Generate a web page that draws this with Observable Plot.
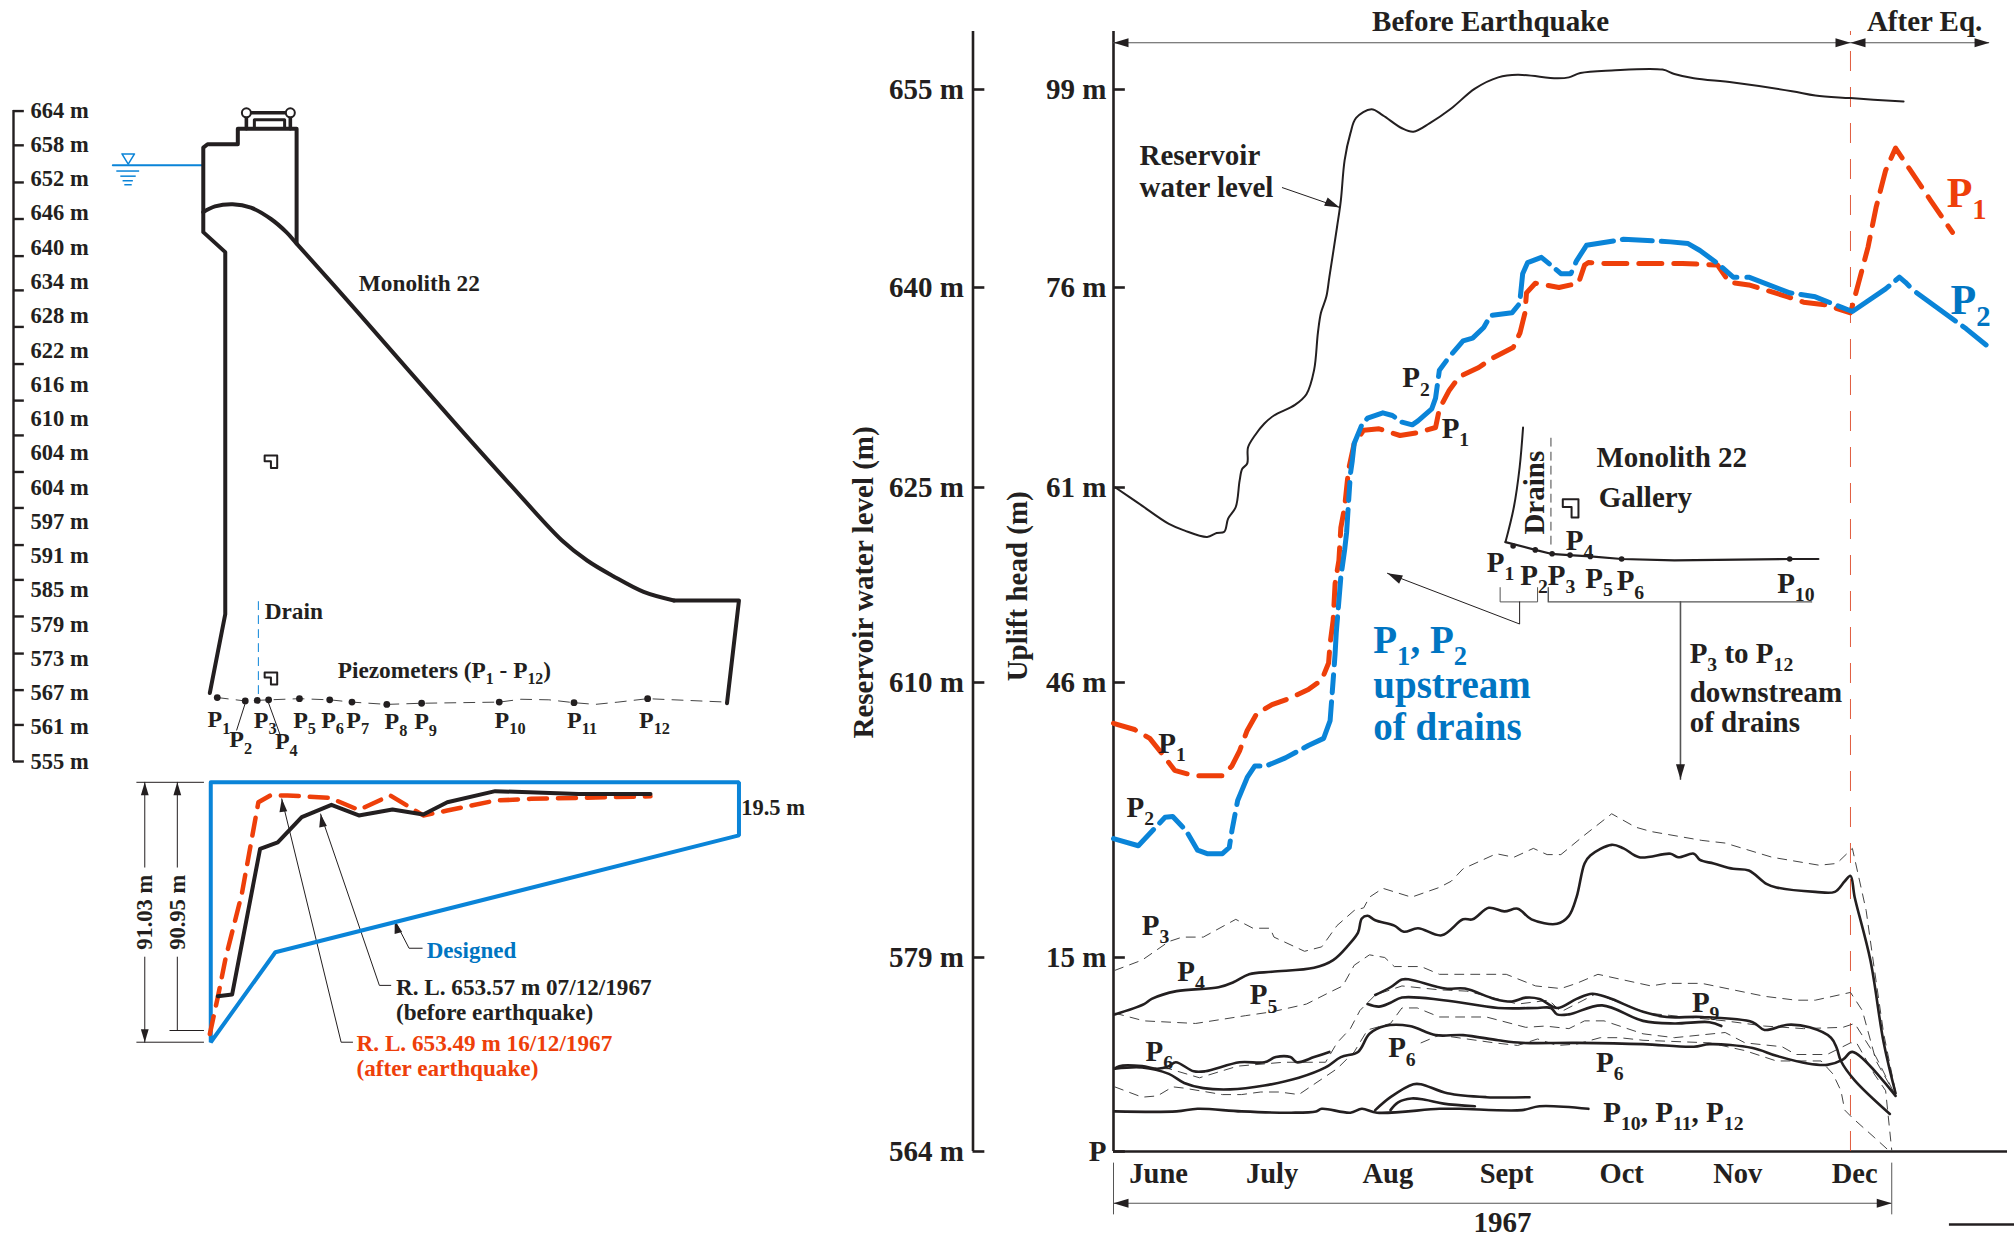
<!DOCTYPE html>
<html><head><meta charset="utf-8">
<script src="https://cdn.jsdelivr.net/npm/d3@7"></script>
<script src="https://cdn.jsdelivr.net/npm/@observablehq/plot@0.6"></script>
<style>html,body{margin:0;padding:0;background:#fff;width:2014px;height:1235px;overflow:hidden}svg{position:absolute;max-width:none!important;overflow:visible}</style>
</head><body>
<div id="root" style="position:relative;width:2014px;height:1235px"></div>
<script>
const INK="#231f20", RED="#ee3f0a", BLUE="#0a84d8", BLUETXT="#0075c2", GREY="#555";

// ---- Right chart: days since 1 June 1967, uplift head in m ----
const months=["June","July","Aug","Sept","Oct","Nov","Dec"];
const monthDays=[11.8,41.5,71.8,102.9,133,163.4,194];
const upliftTicks=[0,15,46,61,76,99];
const reservoirLevels=[564,579,610,625,640,655];
const earthquakeDay=192.9;

const reservoir=[[0.5,61],[6.5,59.8],[14.5,58.2],[18.5,57.7],[24.5,57.2],[27,57.5],[29,57.6],[30,58.6],[32,59.5],[33,61.5],[33.7,62.4],[35,62.8],[35.2,64],[37,64.9],[39.5,65.8],[42,66.4],[47.5,67.2],[50.5,68],[52.5,69.8],[53.5,72.6],[54.3,74.1],[55.7,75.3],[56.5,77.2],[58.5,83],[59.5,86.1],[60.5,90.8],[62,93.9],[63.5,95.7],[67.5,96.7],[70.5,96],[75.5,94.5],[78.5,94.1],[82.8,95.1],[88.4,96.8],[94.6,99.1],[100.7,100.4],[105.8,100.7],[116,100.3],[119.2,100.4],[122.2,100.9],[130.4,101.2],[143.7,101.3],[146.8,100.8],[151.9,100.3],[162.2,99.8],[177.6,98.8],[183.7,98.3],[192.9,98],[206.8,97.6]];
const p1=[[0,41.4],[5.5,40.7],[9.5,39.7],[13,37.8],[16,36.1],[21,35.5],[28.5,35.5],[31,36.6],[33,38.3],[35,40.6],[37.5,42.5],[41.5,43.5],[46,44.2],[51,45.2],[54.5,46.2],[56.3,47.5],[56.7,49],[57.5,50.8],[58,53.6],[59,55.4],[59.5,57.9],[60.5,59.5],[61.5,62.3],[63,64.3],[65.5,65.3],[69.5,65.4],[75,64.9],[79.5,65.1],[84.3,65.5],[85.3,66.9],[87.9,68.3],[90.5,69.3],[95.6,70],[99.2,70.7],[104.6,71.5],[106.4,72.6],[107.7,74.1],[108.1,75.6],[110.4,76.5],[116.6,76],[121.7,76.5],[123.3,78.6],[124.3,78.9],[128.4,78.8],[138.6,78.8],[148.9,78.8],[158.1,78.6],[161.2,76.6],[166.3,76.3],[176.5,75.3],[180.6,74.9],[186.3,74.7],[192.9,74.1],[195,76.5],[197.5,80.7],[199.6,85.3],[202.1,89.6],[204.7,92.2],[208.3,89.8],[213.9,86.1],[219.6,82.4]];
const p2=[[0,28.4],[6.5,27.6],[13.5,30.8],[15.5,30.9],[19,29.3],[22,27.1],[24.5,26.7],[28.5,26.7],[30.3,27.4],[31,29.3],[32.5,32.7],[35,35.3],[37,36.6],[40,36.6],[45,37.5],[51,38.9],[55,39.7],[56.7,41.7],[57.5,46.2],[58,48.2],[58.3,49.8],[59.5,54.1],[60.5,56.2],[61,57.5],[62,62],[62.5,63],[63,64.3],[65,65.7],[66.5,66.2],[70.5,66.6],[73,66.4],[75.5,65.9],[78.2,65.7],[79.7,66],[83.3,66.9],[84.3,67.7],[85.3,69.8],[87.9,70.8],[91.5,72],[94,72.2],[96.9,73],[98.7,73.9],[104.3,74.1],[106.3,74.8],[107.1,77.6],[108.4,78.9],[112,79.5],[114.5,78.6],[117.1,77.6],[119.7,77.6],[121.2,79.1],[123.8,80.9],[133.5,81.6],[145.8,81.3],[150.4,81.1],[153.5,80.3],[158.1,78.8],[162.2,77.2],[166.3,77.2],[177,75.6],[183.7,75.3],[186.3,75],[193.4,74.2],[202.1,75.9],[205.7,77.2],[207.3,76.6],[209.3,75.8],[223.2,72.9],[228.8,71.6]];
const p4=[[0.3,10.6],[8,11.4],[10,11.8],[16.5,12.4],[27.5,12.7],[31.5,13.1],[35.5,13.7],[41.5,13.9],[52.5,14.2],[57.5,14.8],[61.5,16.4],[64,17.8],[65,19.4],[66.5,19.7],[68.5,19.2],[73.5,18.6],[76,17.9],[79.7,18.3],[85.9,17.5],[91.5,19.3],[94,19.3],[98.2,20.6],[102.3,20.2],[105.8,20.5],[109.4,19.3],[116.1,18.8],[119.2,19.7],[121.2,21.8],[123.3,25.6],[124.8,26.5],[130.4,27.7],[133.5,27.3],[137.6,26.3],[145.8,26.7],[147.8,26.3],[151.9,26.7],[153.5,26],[157.1,25.6],[162.2,25],[166.3,24.8],[170.9,23.3],[173.5,22.9],[183.7,22.4],[188.8,22.4],[191.4,23.6],[192.9,24.2],[194,21.8],[198.1,14.8],[201.6,8.4],[204.7,4.5]];
const p3=[[0.3,14],[7.5,14.8],[14.5,16.8],[18,17.3],[23.5,17.3],[32,19.3],[36.5,18.3],[41,18.3],[42,17.3],[50,15.7],[54.5,16.2],[58.5,18.6],[63,20.3],[65.5,20.6],[67,21.8],[70.5,22.8],[78,21.8],[85.3,22.9],[88.4,23.6],[91.5,25],[100.2,26.7],[104.8,26.3],[109.9,27.3],[113.5,26.6],[117.1,26.6],[123.3,28.8],[130.4,31.2],[136.6,29.7],[140.7,29.2],[154,28.2],[160.1,27.9],[172.4,26.3],[184.7,25.4],[189.3,25.6],[193.4,27.3],[197,20.3],[199.1,14.2],[201.6,9.1],[204.7,4.6]];
const p5=[[0.3,10.7],[8,10.1],[21.5,9.9],[34.5,10.5],[41.5,10.8],[50.5,11.4],[56.5,12.3],[60,12.8],[63,14.4],[67,15.3],[71,15],[73.5,14.3],[80.5,14.3],[85.3,13.7],[102.8,13.7],[110.5,12.8],[117.1,12.6],[121.2,13],[126.8,13.7],[140.7,12.8],[144.8,13],[154,13],[170.4,12],[178.6,11.7],[183.7,11.7],[192.9,12.3],[196,10.9],[199.6,7],[204.4,4.5]];
const p9Upper=[[68.5,12.1],[72.5,12.7],[75.5,13.3],[77.5,13.3],[86.9,12.6],[92,12.6],[99.7,11.8],[104.3,11.6],[107.9,11.9],[111.5,11.8],[116.1,11.1],[121.2,11.8],[125.3,12.2],[129.4,11.9],[138.6,10.8],[144.8,10.4],[154,10.4],[167.3,10],[170.4,9.4],[176.5,9.8],[182.2,9.6],[187.8,8.8],[189.3,8],[190.4,7],[194,5.5],[203.2,2.9]];
const p9Lower=[[66.5,11.4],[69.5,11.2],[72.5,11.5],[75.5,11.9],[86.4,11.7],[100.7,11.1],[111,11.1],[114.5,11.1],[116.1,10.6],[119.2,10.6],[127.9,11.3],[138.6,10.1],[146.8,9.9],[156,10],[159.1,9.7]];
const p6Main=[[0.3,6.4],[7.5,6.5],[14.5,6],[18.5,5.3],[23.5,4.9],[30.5,4.8],[39.5,5.1],[48.5,5.7],[55.5,6.5],[59.5,7.3],[64,7.7],[67,9.1],[71,9.7],[77.5,9.7],[84.3,9],[91.5,9],[100.7,8.6],[106.9,8.4],[121.2,8.4],[138.6,8.3],[151.9,8.1],[156,8.3],[167.3,8],[173.5,7.4],[181.7,6.8],[186.8,6.7],[190.9,7.1],[193.4,7.7],[204.7,4.3]];
const p6Short=[[0.3,6.4],[1.5,6.6],[7.5,6.6],[11.5,6.4],[14.5,6.6],[16.3,6.9],[21,6.2],[24,6.2],[33,6.9],[39.5,6.9],[42.5,7.3],[46.3,7.3],[48,6.9],[52.5,7.3],[56.5,7.7]];
const p10=[[0.3,3.1],[16.5,3.1],[22,3.3],[33.5,3.1],[46.5,3],[53,3.1],[54.5,3.3],[62,3],[65,3.3],[69,3],[85.3,3.3],[90.5,3.3],[106.9,3.2],[111.5,3.5],[124.3,3.3]];
const p11=[[68.5,3.2],[72.5,4.2],[78.5,5.2],[80.5,5.2],[87.4,4.5],[97.6,4.2],[108.9,4.2]];
const p12=[[72.5,3.2],[74.5,3.8],[78,4.1],[81.5,4],[86.4,3.7],[94.6,3.5]];
const thinA=[[0.3,5],[7.5,4.2],[11.5,4.3],[15.5,5],[18.5,4.9],[28.5,4.4],[33.5,4.4],[38.5,4.6],[43.5,4.6],[48.5,4.4],[53,5.3],[58.5,6.4],[63,7.7],[66.5,9.4],[72.5,9.9],[75.5,11.1],[79.5,11.1],[85.3,10.4],[97.6,10.4],[107.9,9.6],[113,9.7],[119.2,9.5],[123.3,10.1],[128.4,10.1],[138.6,9.1],[146.8,8.8],[160.1,9.2],[165.3,8.4],[175,8.1],[178.6,7.5],[186.8,7.5],[192.9,8.4],[194.5,8.4],[199.1,6],[202.1,4.7],[203.7,0.1]];
const thinB=[[0.3,6.5],[5.5,6.5],[14.5,6.4],[22.5,5.7],[32.5,6.6],[44.5,6.9],[55.5,6.9],[58.5,8.4],[62,9.5],[64.5,10.9],[68.5,12.1],[75.5,12.8],[85.3,12.5],[92.5,12.4],[105.8,11.4],[114,11.7],[117.1,10.8],[126.3,12.2],[139.7,10.7],[160.1,10.1],[170.4,9.7],[180.6,9.5],[190.9,9.6],[194,9.9],[199.6,7.3],[204.7,4.3]];
const thinC=[[80.5,8.4],[85.3,9],[99.7,8.4],[105.8,8.2],[111,8.7],[116.1,8.2],[121.2,8.3],[127.4,8.8],[132.5,8.8],[138.6,8.6],[156,8.4],[165.3,7.8],[170.4,7.3],[173.5,7],[185.2,7],[188.3,6],[190.4,4.7],[191.4,3.2],[193.4,2.6],[199.1,1.1],[203.2,0]];

// inset sketch inside the right chart
const insetFace=[[107.2,65.5],[106.3,62.5],[104.8,59.5],[102.6,56.8]];
const insetBase=[[102.6,56.8],[110.4,56.2],[114.5,55.9],[119.2,55.8],[124.8,55.7],[133,55.5],[146.8,55.4],[177,55.5],[184.5,55.5]];
const insetDots=[[104.6,56.5],[110.4,56.2],[114.8,55.9],[119.5,55.8],[124.8,55.7],[133,55.5],[177,55.5]];
const insetDrain=[[114.5,64.7],[114.5,56.2]];
const insetGallery=[[117.6,60.1],[121.7,60.1],[121.7,58.7],[119.9,58.7],[119.9,59.5],[117.6,59.5],[117.6,60.1]];
const bracketUp=[[101.2,53.3],[101.2,52.2],[111,52.2],[111,53.3]];
const bracketDown=[[113.8,53.3],[113.8,52.2],[182.7,52.2]];
const leaderUp=[[106.3,52.2],[106.3,50.5],[71.7,54.4]];
const leaderDown=[[148.4,52.2],[148.4,35.1]];
const leaderReservoir=[[44.2,87.6],[59.2,85.3]];

const rightHeads=[
 {x:0,y:104.4,a:270},{x:earthquakeDay,y:104.4,a:90},{x:earthquakeDay,y:104.4,a:270},{x:229.3,y:104.4,a:90},
 {x:0,y:-4,a:270},{x:203.7,y:-4,a:90},{x:59.2,y:85.3,a:113},{x:71.7,y:54.4,a:295},{x:148.4,y:35.1,a:180}];

const rightLabelsMid=[
 {x:98.7,y:106.8,t:"Before Earthquake"},{x:212.3,y:106.8,t:"After Eq."},{x:101.8,y:-5.5,t:"1967"},
 {x:79.2,y:69.2,t:"P_2"},{x:89.5,y:65.4,t:"P_1"},{x:15.3,y:39.1,t:"P_1"},{x:7,y:31.9,t:"P_2"},
 {x:101.3,y:55.2,t:"P_1"},{x:110.1,y:54.2,t:"P_2"},{x:117.3,y:54.2,t:"P_3"},{x:122,y:56.9,t:"P_4"},{x:127.1,y:54,t:"P_5"},{x:135.3,y:53.8,t:"P_6"},{x:178.6,y:53.6,t:"P_10"},
 {x:11,y:18.6,t:"P_3"},{x:20.3,y:13.9,t:"P_4"},{x:39.3,y:12.1,t:"P_5"},{x:12,y:7.7,t:"P_6"},{x:75.5,y:8,t:"P_6"},{x:129.9,y:6.9,t:"P_6"},{x:155,y:11.5,t:"P_9"}];
const rightLabelsStart=[
 {x:6.8,y:91.3,t:"Reservoir"},{x:6.8,y:87.6,t:"water level"},
 {x:126.4,y:63.25,t:"Monolith 22"},{x:127,y:60.2,t:"Gallery"},
 {x:150.8,y:48.2,t:"P_3 to P_12"},{x:150.8,y:44.9,t:"downstream"},{x:150.8,y:41.5,t:"of drains"},
 {x:128.2,y:3,t:"P_10, P_11, P_12"}];
const rightBlueLabels=[{x:68,y:49.2,t:"P_1, P_2"},{x:68,y:45.7,t:"upstream"},{x:68,y:40.9,t:"of drains"}];

// ---- Dam section: chainage and elevation in m ----
const elevationTicks=[664,658,652,646,640,634,628,622,616,610,604,598,592,586,580,574,568,562,556,550];
const elevationLabels=["664 m","658 m","652 m","646 m","640 m","634 m","628 m","622 m","616 m","610 m","604 m","604 m","597 m","591 m","585 m","579 m","573 m","567 m","561 m","555 m"];
const elevationMarks=[663.9,657.9,651.4,645,638.5,632.5,626.1,619.6,613.2,607.1,600.7,594.4,587.9,581.8,575.4,568.9,562.5,556.4,550];
const damUpstream=[[1.6,562],[4.3,575.8],[4.3,639.2],[0.45,642.7],[0.45,657.5],[1.2,658.1],[6.5,658.1],[6.5,660.8],[16.8,660.8],[16.8,640.7]];
const damCrest=[[0.45,646.2],[2.5,647.2],[5.6,647.6],[8.8,647],[12.3,645],[15,642.7],[16.8,640.7],[27.5,628.7],[36.5,618.4],[45.4,608.3],[54.3,598.4],[63.3,588.7],[67.7,585.2],[72.2,582.5],[77.6,579.7],[82.9,578.2]];
const damToe=[[82.9,578.2],[94.3,578.2],[92.2,560.2]];
const parapetOuter=[[8,660.8],[8,663.6],[15.7,663.6],[15.7,660.8]];
const parapetInner=[[9.4,661],[9.4,662.4],[14.7,662.4],[14.7,661]];
const parapetRollers=[[8,663.6],[15.7,663.6]];
const waterLine=[[-15.4,654.4],[0.3,654.4]];
const waterTriangle=[[-13.8,656.4],[-11.6,656.4],[-12.7,654.6],[-13.8,656.4]];
const waterRipples=[[-14.7,-10.7,653.4],[-14,-11.3,652.5],[-13.6,-11.8,651.7],[-13.3,-12,651]];
const galleryUpper=[[11.2,603.6],[13.4,603.6],[13.4,601.4],[12.3,601.4],[12.3,602.6],[11.2,602.6],[11.2,603.6]];
const galleryLower=[[11.2,565.6],[13.4,565.6],[13.4,563.5],[12.3,563.5],[12.3,564.7],[11.2,564.7],[11.2,565.6]];
const drainLine=[[10.1,578],[10.1,560.6]];
const baseLine=[[2.9,561.2],[7.8,560.6],[9.9,560.7],[11.9,560.8],[17.3,561],[22.6,560.8],[26.5,560.4],[32.6,560],[38.7,560.2],[52.3,560.4],[56.1,560.9],[61,560.8],[65.4,560.3],[69.1,560],[73.1,560.4],[78.3,561],[92.2,560.4]];
const piezometers=[[2.9,561.2],[7.8,560.6],[9.9,560.7],[11.9,560.8],[17.3,561],[22.6,560.8],[26.5,560.4],[32.6,560],[38.7,560.2],[52.3,560.4],[65.4,560.3],[78.3,561]];
const damLeaders=[[[7.8,560.2],[6.3,555.5]],[[11.9,560.2],[13.9,554.7]]];
const damLabelsMid=[{x:3.2,y:557.4,t:"P_1"},{x:7,y:553.8,t:"P_2"},{x:11.3,y:557.3,t:"P_3"},{x:15,y:553.5,t:"P_4"},{x:18.2,y:557.3,t:"P_5"},{x:23.1,y:557.3,t:"P_6"},{x:27.5,y:557.3,t:"P_7"},{x:34.2,y:557,t:"P_8"},{x:39.4,y:557,t:"P_9"},{x:54.2,y:557.3,t:"P_10"},{x:66.8,y:557.3,t:"P_11"},{x:79.5,y:557.3,t:"P_12"}];
const damLabelsStart=[{x:27.7,y:633.7,t:"Monolith 22"},{x:11.2,y:576.2,t:"Drain"},{x:24,y:566,t:"Piezometers (P_1 - P_12)"}];

// ---- Uplift diagram: same chainage, head in m ----
const designed=[[1.76,91.1],[94.3,91.1],[94.3,72.5],[13.07,31.6],[1.76,0.1],[1.76,91.1]];
const beforeEq=[[3,16.2],[5.5,16.8],[10.4,67.8],[13.5,70.1],[17.7,78.9],[22.9,83.2],[27.7,79.5],[33.6,81.6],[39,79.8],[43.2,84.1],[51.6,88],[66.2,87],[78.8,87]];
const afterEq=[[1.6,3],[3,15.9],[4.4,29.9],[7.2,52],[10.1,84.1],[12.2,86.5],[15.2,86.5],[22.7,85.6],[27.7,81.4],[33.2,86.5],[39,79.5],[43.2,81.2],[51.6,84.7],[57.9,85.3],[78.8,86.2]];
const dimLines=[
 [[-9.8,91.1],[-9.8,61.4]],[[-9.8,29.9],[-9.8,0.1]],
 [[-4.1,91.1],[-4.1,61.4]],[[-4.1,29.9],[-4.1,4.2]],
 [[-11.2,91.1],[0.5,91.1]],[[-11.2,0.1],[0.5,0.1]],[[-5.4,4.2],[0.5,4.2]],
 [[34,42.7],[36.5,33],[38.8,33]],[[21,80],[31.3,20],[33.3,20]],[[14.2,85.3],[24.6,0.1],[26.6,0.1]]];
const upliftHeads=[{x:-9.8,y:91.1,a:0},{x:-4.1,y:91.1,a:0},{x:-9.8,y:0.1,a:180},{x:34,y:42.7,a:344},{x:21,y:80,a:349},{x:14.2,y:85.3,a:353}];

// ---- helpers ----
const SERIF="'Liberation Serif','Times New Roman',serif";
const pairLine=(data,o)=>Plot.line(data,{x:d=>d[0],y:d=>d[1],...o});
const textSet=(rows,o)=>Plot.text(rows,{x:"x",y:"y",text:"t",lineAnchor:"middle",...o});
const headSymbol={draw(c,s){const l=Math.sqrt(s/Math.PI),w=l*.3;c.moveTo(0,0);c.lineTo(-w,l);c.lineTo(w,l);c.closePath();}};
const headMark=(rows,r,fill=INK)=>Plot.dot(rows,{x:"x",y:"y",rotate:d=>d.a,symbol:headSymbol,r,fill});
const base=(pos)=>({style:{fontFamily:SERIF,fontWeight:"bold",color:INK,background:"transparent",...pos,maxWidth:"none"}});
function subscripts(svg){
  svg.querySelectorAll("text").forEach(t=>{
    const walk=t.querySelector("tspan")?[...t.querySelectorAll("tspan")]:[t];
    walk.forEach(el=>{
      const s=el.textContent; if(!/_\d/.test(s))return;
      const parts=s.split(/_(\d+)/); el.textContent="";
      let back=false;
      parts.forEach((p,i)=>{ if(!p)return;
        const ts=document.createElementNS("http://www.w3.org/2000/svg","tspan");
        if(i%2){ts.setAttribute("font-size","68%");ts.setAttribute("dy","0.42em");back=true;}
        else if(back){ts.setAttribute("dy","-0.286em");back=false;}
        ts.textContent=p; el.appendChild(ts);
      });
    });
  });
  return svg;
}
const root=document.getElementById("root");

// ---- Right chart ----
const thin={stroke:"#444",strokeWidth:1,strokeDasharray:"9,7"};
const heavy={stroke:INK,strokeWidth:2.6,curve:"catmull-rom"};
root.appendChild(subscripts(Plot.plot({
  ...base({left:"820px",top:"0px"}),
  width:1194,height:1235,marginLeft:293,marginRight:7,marginBottom:84,marginTop:31,
  x:{domain:[0,234]},
  y:{type:"linear",domain:[0,15,46,61,76,99,105.7],range:[1151,957,682,487,287,89,31]},
  marks:[
   Plot.axisY(upliftTicks,{anchor:"left",tickSize:0,tickPadding:7,fontSize:29,fontWeight:"bold",fontFamily:SERIF,label:null,tickFormat:d=>d===0?"P":d+" m"}),
   Plot.axisY(upliftTicks,{anchor:"left",dx:-140.5,tickSize:0,tickPadding:9,fontSize:29,fontWeight:"bold",fontFamily:SERIF,label:null,tickFormat:d=>reservoirLevels[upliftTicks.indexOf(d)]+" m"}),
   Plot.axisX(monthDays,{anchor:"bottom",tickSize:0,tickPadding:11,fontSize:28.5,fontWeight:"bold",fontFamily:SERIF,label:null,tickFormat:d=>months[monthDays.indexOf(d)]}),
   Plot.ruleX([0],{y1:0,y2:105.7,stroke:INK,strokeWidth:2.6}),
   Plot.ruleX([0],{y1:0,y2:105.7,dx:-140.5,stroke:INK,strokeWidth:2.6}),
   Plot.ruleY([0],{x1:0,x2:234,stroke:INK,strokeWidth:2.6}),
   Plot.ruleY(upliftTicks,{x1:0,x2:3.1,stroke:INK,strokeWidth:2.6}),
   Plot.ruleY(upliftTicks,{x1:0,x2:3.1,dx:-140.5,stroke:INK,strokeWidth:2.6}),
   Plot.ruleX([earthquakeDay],{y1:0,y2:105.7,stroke:"#dc4a28",strokeWidth:0.9,strokeDasharray:"20,16"}),
   Plot.ruleY([104.4],{x1:0,x2:229.3,stroke:GREY,strokeWidth:1.2}),
   Plot.ruleY([-4],{x1:0,x2:203.7,stroke:GREY,strokeWidth:1.2}),
   Plot.ruleX([0,203.7],{y1:-0.9,y2:-4.9,stroke:GREY,strokeWidth:1}),
   Plot.ruleY([-5.65],{x1:218.8,x2:236,stroke:INK,strokeWidth:2.6}),
   pairLine(thinA,thin),pairLine(thinB,thin),pairLine(thinC,thin),pairLine(p3,thin),pairLine(p5,thin),
   pairLine(reservoir,{stroke:INK,strokeWidth:2,curve:"catmull-rom"}),
   pairLine(p4,heavy),pairLine(p9Upper,heavy),pairLine(p9Lower,heavy),pairLine(p6Main,heavy),pairLine(p6Short,heavy),pairLine(p10,heavy),pairLine(p11,heavy),pairLine(p12,heavy),
   pairLine(p1,{stroke:RED,strokeWidth:5,strokeDasharray:"23,12"}),
   pairLine(p2,{stroke:BLUE,strokeWidth:5,strokeDasharray:"48,9,30,9,60,9,18,10"}),
   pairLine(insetFace,{stroke:INK,strokeWidth:2,curve:"catmull-rom"}),
   pairLine(insetBase,{stroke:INK,strokeWidth:2.2}),
   Plot.dot(insetDots,{x:d=>d[0],y:d=>d[1],r:2.8,fill:INK}),
   pairLine(insetDrain,{stroke:"#444",strokeWidth:1,strokeDasharray:"8,6"}),
   pairLine(insetGallery,{stroke:INK,strokeWidth:2}),
   pairLine(bracketUp,{stroke:GREY,strokeWidth:1}),pairLine(bracketDown,{stroke:GREY,strokeWidth:1.4}),
   pairLine(leaderUp,{stroke:INK,strokeWidth:1}),pairLine(leaderDown,{stroke:GREY,strokeWidth:1.6}),pairLine(leaderReservoir,{stroke:INK,strokeWidth:1}),
   headMark(rightHeads,15),
   textSet(rightLabelsMid,{textAnchor:"middle",fontSize:29,fill:INK}),
   textSet(rightLabelsStart,{textAnchor:"start",fontSize:29,fill:INK}),
   textSet(rightBlueLabels,{textAnchor:"start",fontSize:39,fill:BLUETXT}),
   textSet([{x:110.2,y:60.6,t:"Drains"}],{rotate:-90,textAnchor:"middle",fontSize:29,fill:INK}),
   textSet([{x:-25,y:53.4,t:"Uplift head (m)"}],{rotate:-90,textAnchor:"middle",fontSize:29,fill:INK}),
   textSet([{x:-65.5,y:53.7,t:"Reservoir water level (m)"}],{rotate:-90,textAnchor:"middle",fontSize:29,fill:INK}),
   textSet([{x:223.3,y:86.9,t:"P_1"}],{textAnchor:"middle",fontSize:42,fill:RED}),
   textSet([{x:224.3,y:75,t:"P_2"}],{textAnchor:"middle",fontSize:42,fill:BLUETXT})
  ]
})));

// ---- Dam section ----
root.appendChild(subscripts(Plot.plot({
  ...base({left:"0px",top:"0px"}),
  width:860,height:790,marginLeft:13,marginRight:89,marginTop:110,marginBottom:29,
  x:{domain:[-32.8,100],axis:null},
  y:{domain:[550,664]},
  marks:[
   Plot.axisY(elevationTicks,{anchor:"left",tickSize:0,tickPadding:-17,textAnchor:"start",fontSize:22.5,fontWeight:"bold",fontFamily:SERIF,label:null,tickFormat:d=>elevationLabels[elevationTicks.indexOf(d)]}),
   Plot.ruleX([-32.8],{y1:550,y2:664,stroke:INK,strokeWidth:2.4}),
   Plot.ruleY(elevationMarks,{x1:-32.8,x2:-30.9,stroke:INK,strokeWidth:2.4}),
   pairLine(waterLine,{stroke:BLUE,strokeWidth:2}),
   pairLine(waterTriangle,{stroke:BLUE,strokeWidth:1.5}),
   Plot.ruleY(waterRipples,{x1:d=>d[0],x2:d=>d[1],y:d=>d[2],stroke:BLUE,strokeWidth:1.5}),
   pairLine(damUpstream,{stroke:INK,strokeWidth:4,strokeLinejoin:"round"}),
   pairLine(damCrest,{stroke:INK,strokeWidth:4,curve:"catmull-rom"}),
   pairLine(damToe,{stroke:INK,strokeWidth:4}),
   pairLine(parapetOuter,{stroke:INK,strokeWidth:3.6}),
   pairLine(parapetInner,{stroke:INK,strokeWidth:3}),
   Plot.dot(parapetRollers,{x:d=>d[0],y:d=>d[1],r:4.5,stroke:INK,strokeWidth:2,fill:"#fff"}),
   pairLine(galleryUpper,{stroke:INK,strokeWidth:2}),pairLine(galleryLower,{stroke:INK,strokeWidth:2}),
   pairLine(drainLine,{stroke:BLUE,strokeWidth:1,strokeDasharray:"8,6"}),
   pairLine(baseLine,{stroke:"#444",strokeWidth:1,strokeDasharray:"11,8"}),
   Plot.dot(piezometers,{x:d=>d[0],y:d=>d[1],r:3.4,fill:INK}),
   ...damLeaders.map(l=>pairLine(l,{stroke:INK,strokeWidth:1})),
   textSet(damLabelsMid,{textAnchor:"middle",fontSize:24,fill:INK}),
   textSet(damLabelsStart,{textAnchor:"start",fontSize:23.3,fill:INK})
  ]
})));

// ---- Uplift diagram ----
root.appendChild(subscripts(Plot.plot({
  ...base({left:"0px",top:"760px"}),
  width:860,height:340,marginLeft:13,marginRight:89,marginTop:22,marginBottom:58,
  x:{domain:[-32.8,100],axis:null},
  y:{domain:[0,91.03],axis:null},
  marks:[
   ...dimLines.map(l=>pairLine(l,{stroke:INK,strokeWidth:1})),
   headMark(upliftHeads,13),
   pairLine(designed,{stroke:BLUE,strokeWidth:4,strokeLinejoin:"miter"}),
   pairLine(afterEq,{stroke:RED,strokeWidth:4.5,strokeDasharray:"18,11"}),
   pairLine(beforeEq,{stroke:INK,strokeWidth:4}),
   textSet([{x:-9.8,y:45.6,t:"91.03 m"},{x:-4.1,y:45.6,t:"90.95 m"}],{rotate:-90,textAnchor:"middle",fontSize:22.5,fill:INK}),
   textSet([{x:94.7,y:82.1,t:"19.5 m"}],{textAnchor:"start",fontSize:22.5,fill:INK}),
   textSet([{x:39.6,y:32.2,t:"Designed"}],{textAnchor:"start",fontSize:23,fill:BLUETXT}),
   textSet([{x:34.2,y:19.4,t:"R. L. 653.57 m 07/12/1967"},{x:34.2,y:10.4,t:"(before earthquake)"}],{textAnchor:"start",fontSize:23.2,fill:INK}),
   textSet([{x:27.3,y:-0.2,t:"R. L. 653.49 m 16/12/1967"},{x:27.3,y:-9.2,t:"(after earthquake)"}],{textAnchor:"start",fontSize:23.2,fill:RED})
  ]
})));
</script>
</body></html>
